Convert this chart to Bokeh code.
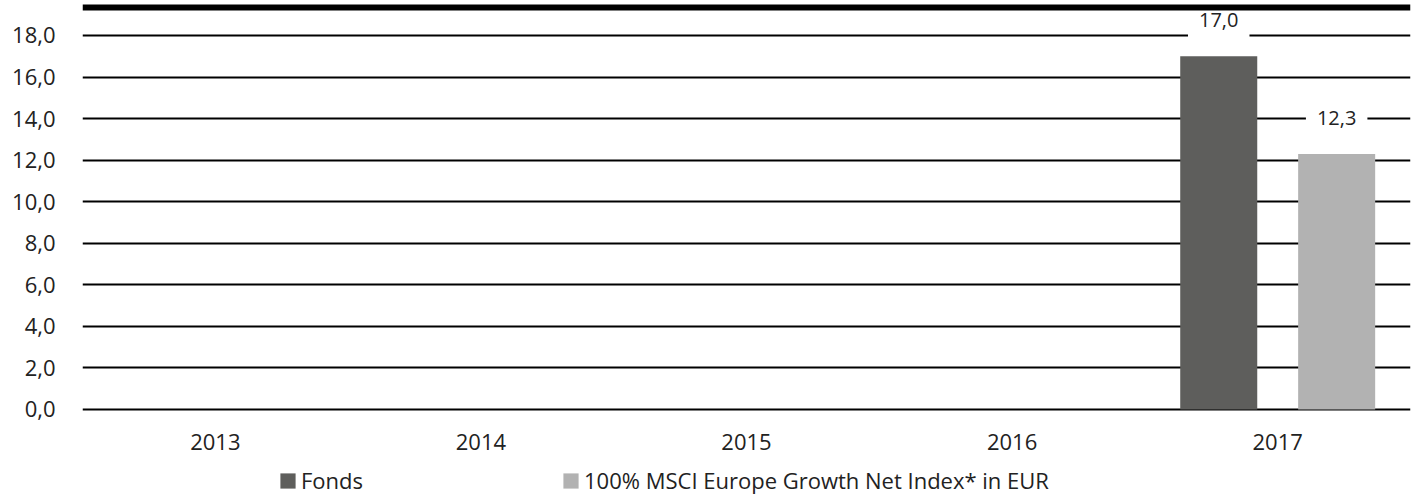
from bokeh.plotting import figure
from bokeh.models import (ColumnDataSource, FactorRange, Range1d, FixedTicker,
                          Legend, LegendItem, Label, BoxAnnotation, CategoricalAxis)
from bokeh.transform import dodge
from bokeh.embed import file_html
from bokeh.resources import INLINE

years = ["2013", "2014", "2015", "2016", "2017"]
fonds = [None, None, None, None, 17.0]
index = [None, None, None, None, 12.3]
series_names = ["Fonds", "100% MSCI Europe Growth Net Index* in EUR"]
series_colors = ["#5e5e5c", "#b2b2b2"]
y_ticks = [0, 2, 4, 6, 8, 10, 12, 14, 16, 18]
y_tick_labels = ["0,0", "2,0", "4,0", "6,0", "8,0", "10,0", "12,0", "14,0", "16,0", "18,0"]

FONT = "Open Sans"
PX = 20.778          # pixels per unit on the y scale
Y0, Y1 = -4.139, 19.684

p = figure(width=1417, height=495, x_range=FactorRange(*years, range_padding=0),
           y_range=Range1d(Y0, Y1), toolbar_location=None, x_axis_location=None,
           output_backend="svg", min_border_left=82, min_border_right=7,
           min_border_top=0, min_border_bottom=0, outline_line_color=None)

offsets = [-0.222, 0.222]
vals = [fonds, index]
renderers = []
for name, color, off, v in zip(series_names, series_colors, offsets, vals):
    src = ColumnDataSource(dict(x=[y for y, val in zip(years, v) if val is not None],
                                top=[val for val in v if val is not None]))
    r = p.vbar(x=dodge("x", off, range=p.x_range), top="top", width=0.29,
               source=src, fill_color=color, line_color=None)
    renderers.append(r)
    for y, val in zip(years, v):
        if val is None:
            continue
        lab = Label(x=years.index(y) + 0.5 + off, y=val, text=f"{val:.1f}".replace(".", ","),
                    text_align="center", text_baseline="bottom", y_offset=18,
                    text_font=FONT, text_font_size="20px", text_color="#222222",
                    background_fill_color="white", padding=11)
        p.add_layout(lab)

# thick black rule at the top
p.add_layout(BoxAnnotation(top=Y1 - 4 / PX, bottom=Y1 - 10 / PX, fill_color="black",
                           fill_alpha=1, line_color=None))

xaxis = CategoricalAxis(fixed_location=0)
p.add_layout(xaxis, "below")

p.ygrid.ticker = FixedTicker(ticks=y_ticks)
p.yaxis.ticker = FixedTicker(ticks=y_ticks)
p.yaxis.major_label_overrides = {t: l for t, l in zip(y_ticks, y_tick_labels)}
p.ygrid.grid_line_color = "black"
p.ygrid.grid_line_width = 2
p.xgrid.visible = False

for ax in (xaxis, p.yaxis[0]):
    ax.axis_line_color = None
    ax.major_tick_line_color = None
    ax.minor_tick_line_color = None
    ax.major_tick_out = 0
    ax.major_tick_in = 0
    ax.major_label_text_font = FONT
    ax.major_label_text_font_size = "22px"
    ax.major_label_text_color = "#222222"
p.yaxis.major_label_standoff = 27
xaxis.major_label_standoff = 25

legend = Legend(items=[LegendItem(label=n, renderers=[r]) for n, r in zip(series_names, renderers)],
                orientation="horizontal", location=(196, 0), spacing=198,
                glyph_width=19, glyph_height=19, label_standoff=4, padding=0, margin=0,
                border_line_color=None, background_fill_alpha=0,
                label_text_font=FONT, label_text_font_size="22px", label_text_color="#222222")
p.add_layout(legend, "center")

open("out.html", "w").write(file_html(p, INLINE))
